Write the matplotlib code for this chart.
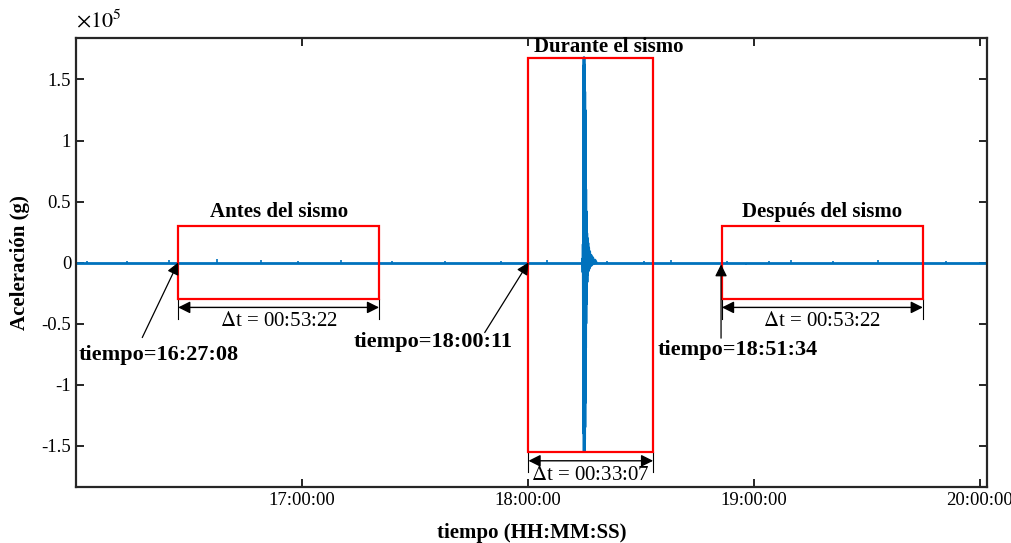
import numpy as np
import matplotlib.pyplot as plt
from matplotlib.patches import Rectangle
from matplotlib.ticker import FuncFormatter

plt.rcParams['font.family'] = ['Liberation Serif', 'DejaVu Serif']
plt.rcParams['mathtext.fontset'] = 'stix'

# --- data (acceleration in units of 1e5) ---
t_start = '16:00:00'
t_end = '20:02:00'

# small background spikes along the record
noise_t = ['16:03:00', '16:08:30', '16:13:40', '16:19:10', '16:24:50', '16:32:00', '16:37:30',
           '16:42:00', '16:49:10', '16:53:40', '16:59:00', '17:04:20', '17:10:30', '17:15:00',
           '17:24:00', '17:31:00', '17:38:00', '17:46:00', '17:53:00', '18:05:00', '18:09:30',
           '18:21:00', '18:26:00', '18:31:00', '18:38:00', '18:45:00', '18:53:00', '18:58:00',
           '19:04:00', '19:10:00', '19:15:30', '19:21:00', '19:27:00', '19:33:00', '19:39:00',
           '19:45:00', '19:51:00', '19:57:00']
noise_a = [0.012, -0.010, 0.015, -0.012, 0.018, -0.010, 0.025, -0.012, 0.020, -0.015, 0.012,
           -0.010, 0.022, -0.012, 0.015, -0.010, 0.012, -0.015, 0.010, 0.018, -0.012, 0.015,
           -0.010, 0.012, 0.020, -0.012, 0.015, -0.018, 0.012, 0.020, -0.010, 0.015, -0.012,
           0.018, -0.010, 0.012, 0.015, -0.010]

# main event (seconds after 18:14:30)
event_s = [0, 6, 10, 13, 16, 18, 20, 22, 24, 26, 28, 30, 32, 34, 36, 38, 40, 42, 44, 46, 48,
           50, 52, 54, 56, 58, 61, 64, 67, 70, 74, 78, 83, 88, 94, 100, 108, 116, 126, 138,
           150, 165, 180, 200, 220]
event_a = [0.0, 0.03, -0.08, 0.15, -0.35, 0.6, -0.9, 1.2, -1.4, 1.68, -1.55, 1.62, -1.52, 1.5,
           -1.45, 1.4, -1.35, 1.25, -1.15, 1.0, -0.9, 0.8, -0.7, 0.6, -0.5, 0.42, -0.34,
           0.3, -0.24, 0.24, -0.16, 0.2, -0.1, 0.16, -0.07, 0.12, -0.05, 0.09, -0.03, 0.06,
           -0.02, 0.04, -0.01, 0.02, 0.0]
event_t0 = '18:14:30'

# boxes: start time, duration, bottom, top
box_start = ['16:27:08', '18:00:11', '18:51:34']
box_dur = ['00:53:22', '00:33:07', '00:53:22']
box_low = [-0.30, -1.557, -0.30]
box_high = [0.30, 1.68, 0.30]
box_title = ['Antes del sismo', 'Durante el sismo', 'Después del sismo']


def hrs(s):
    h, m, sec = [int(v) for v in s.split(':')]
    return h + m / 60 + sec / 3600


def hms(x, pos=None):
    tot = int(round(x * 3600))
    return '%02d:%02d:%02d' % (tot // 3600, (tot % 3600) // 60, tot % 60)


blue = '#0072BD'
fig = plt.figure(figsize=(10.12, 5.43), dpi=100)
ax = fig.add_axes([0.0751, 0.1031, 0.9003, 0.8269])

ax.plot([hrs(t_start), hrs(t_end)], [0, 0], color=blue, lw=2.0, zorder=2)
ax.vlines([hrs(s) for s in noise_t], 0, np.array(noise_a) * 1e5, color=blue, lw=1.2, zorder=2)
e0 = hrs(event_t0)
ax.plot([e0 + s / 3600 for s in event_s], np.array(event_a) * 1e5, color=blue, lw=2.0, zorder=2)

ax.set_xlim(hrs(t_start), hrs(t_end))
ax.set_ylim(-1.84e5, 1.84e5)
ax.set_xticks([hrs('17:00:00'), hrs('18:00:00'), hrs('19:00:00'), hrs('20:00:00')])
ax.xaxis.set_major_formatter(FuncFormatter(hms))
yt = [-1.5, -1, -0.5, 0, 0.5, 1, 1.5]
ax.set_yticks([v * 1e5 for v in yt])
ax.set_yticklabels(['%g' % v for v in yt])
ax.tick_params(direction='in', top=True, right=True, length=6, width=1.2, labelsize=13.5)
for sp in ax.spines.values():
    sp.set_linewidth(1.6)
    sp.set_color('#262626')
ax.text(0.0, 1.012, r'$\times10^{5}$', transform=ax.transAxes, fontsize=16, ha='left', va='bottom')
ax.set_xlabel('tiempo (HH:MM:SS)', fontsize=15, fontweight='bold', labelpad=10)
ax.set_ylabel('Aceleración (g)', fontsize=15, fontweight='bold', labelpad=8)

# boxes, titles and duration arrows
for i in range(3):
    x0 = hrs(box_start[i])
    w = hrs(box_dur[i])
    y0 = box_low[i] * 1e5
    y1 = box_high[i] * 1e5
    ax.add_patch(Rectangle((x0, y0), w, y1 - y0, fill=False, ec='#FF0000', lw=1.6, zorder=3))
    if i == 1:
        ax.text(x0 + 0.025, y1 + 0.005e5, box_title[i], ha='left', va='bottom',
                fontsize=15, fontweight='bold')
    else:
        ax.text(x0 + w / 2, y1 + 0.03e5, box_title[i], ha='center', va='bottom',
                fontsize=15, fontweight='bold')
    ya = y0 - 0.068e5
    ax.plot([x0, x0], [y0, y0 - 0.16e5], color='black', lw=0.8)
    ax.plot([x0 + w, x0 + w], [y0, y0 - 0.16e5], color='black', lw=0.8)
    ax.annotate('', xy=(x0, ya), xytext=(x0 + w, ya),
                arrowprops=dict(arrowstyle='<|-|>', color='black', lw=1.0, mutation_scale=18,
                                shrinkA=0, shrinkB=0))
    ax.text(x0 + w / 2, ya - 0.04e5, r'$\Delta$t = ' + box_dur[i], ha='center', va='top',
            fontsize=15)

# time annotations
ann_text = ['tiempo=16:27:08', 'tiempo=18:00:11', 'tiempo=18:51:34']
ann_tx = ['16:21:50', '17:34:56', '18:55:44']
ann_ty = [-0.76, -0.65, -0.72]
ann_head = ['16:27:08', '18:00:11', '18:51:20']
ann_head_y = [0.0, 0.0, -0.015]
ann_tail = ['16:17:36', '17:48:34', '18:51:20']
ann_tail_y = [-0.615, -0.574, -0.62]
for i in range(3):
    ax.text(hrs(ann_tx[i]), ann_ty[i] * 1e5, ann_text[i], ha='center', va='center',
            fontsize=16, fontweight='bold')
    ax.annotate('', xy=(hrs(ann_head[i]), ann_head_y[i] * 1e5),
                xytext=(hrs(ann_tail[i]), ann_tail_y[i] * 1e5),
                arrowprops=dict(arrowstyle='-|>', color='black', lw=0.9, mutation_scale=18,
                                shrinkA=0, shrinkB=0))

fig.savefig('out.png', dpi=100)
